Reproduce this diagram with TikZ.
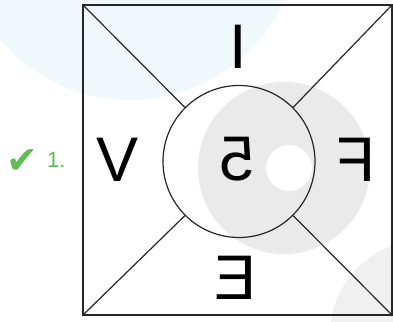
\documentclass[tikz,border=0pt]{standalone}
\usepackage{fontspec}
\usepackage{graphicx}
\setmainfont{Liberation Sans}
\newfontfamily\symfont{DejaVu Sans}
\definecolor{wmblue}{RGB}{241,248,252}
\definecolor{wmgray}{RGB}{234,234,234}
\definecolor{wmgraylt}{RGB}{240,240,240}
\definecolor{okgreen}{RGB}{96,188,88}
\tikzset{
  letter/.style={inner sep=0pt, font=\fontsize{63}{63}\selectfont},
  frame/.style={line width=1.8pt, black!85},
  thin/.style={line width=1.2pt, black!85}
}
\begin{document}
\begin{tikzpicture}[x=1pt,y=-1pt]
\useasboundingbox (0,0) rectangle (393,321);
% watermark
\fill[wmblue] (130,-70) circle (170);
\fill[wmgraylt] (425,335) circle (95);
\fill[wmgray] (284,168) circle (86);
\fill[white] (289,168) circle (23);
% diagram
\coordinate (tl) at (83,5);
\coordinate (tr) at (392,5);
\coordinate (br) at (392,315);
\coordinate (bl) at (83,315);
\node[circle, draw, thin, minimum size=152pt, inner sep=0pt] (c) at (239,161.5) {};
\draw[frame] (tl) -- (tr) -- (br) -- (bl) -- cycle;
\draw[thin] (tl) -- (c.north west);
\draw[thin] (tr) -- (c.north east);
\draw[thin] (br) -- (c.south east);
\draw[thin] (bl) -- (c.south west);
\node[letter] (i) at (238,46.5) {I};
\node[letter] (v) at (117.5,159.5) {V};
\node[letter] (five) at (237,159.5) {\reflectbox{5}};
\node[letter] (f) at (356,159.5) {\reflectbox{F}};
\node[letter] (e) at (235.5,277.5) {\reflectbox{E}};
\node[inner sep=0pt, text=okgreen, font=\symfont\fontsize{38}{38}\selectfont] (chk) at (22,162) {✔};
\node[inner sep=0pt, anchor=west, text=okgreen, font=\fontsize{22}{22}\selectfont] (num) at (47,160) {1.};
\end{tikzpicture}
\end{document}
